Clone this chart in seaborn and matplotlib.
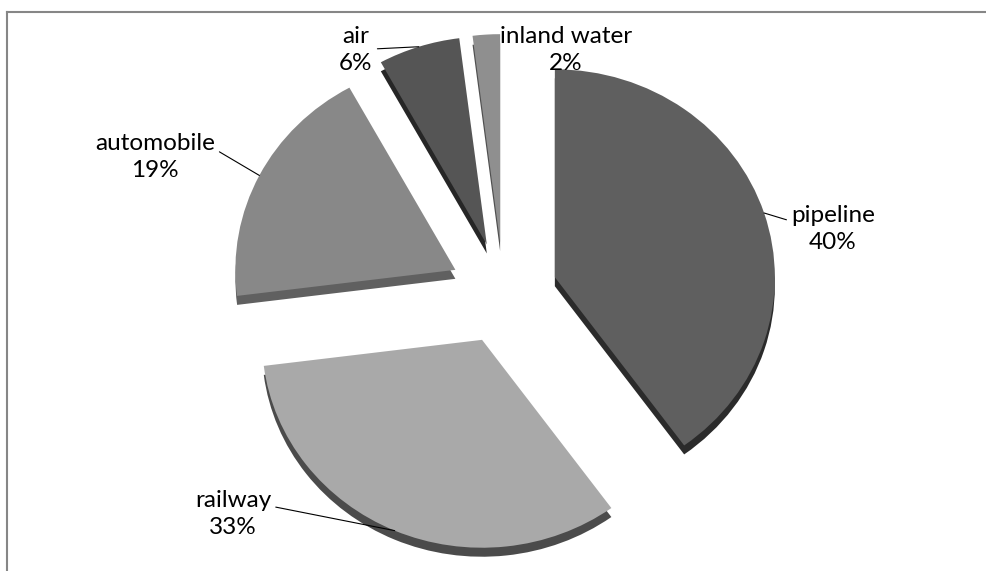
import numpy as np
import matplotlib
matplotlib.use("Agg")
import matplotlib.pyplot as plt
import seaborn as sns

# ---- data ----
categories = ["pipeline", "railway", "automobile", "air", "inland water"]
shares = [40, 33, 19, 6, 2]

# ---- style ----
top_colors = ["#5f5f5f", "#a9a9a9", "#888888", "#555555", "#8f8f8f"]
side_colors = ["#2b2b2b", "#4b4b4b", "#606060", "#262626", "#505050"]
label_px = [(833, 229), (233, 514), (155, 157), (356, 50), (566, 50)]
arrow_relpos = [(0.0, 0.66), (1.0, 0.66), (1.0, 0.66), (1.0, 0.52), None]

sns.set_theme(style="white")
plt.rcParams['font.family'] = ['Lato', 'DejaVu Sans']

W, H, DPI = 987, 571, 100
fig = plt.figure(figsize=(W / DPI, H / DPI), dpi=DPI)
left_px, top_px = 7, 12
ax = fig.add_axes([left_px / W, 0, 1, (H - top_px) / H])
SY = 0.945  # vertical squash of the tilted pie


def px2data(x, y):
    return x, (H - y) / SY


R = 220
explode = [54] * len(shares)
center = px2data(503.5, 293)
shadow_center = px2data(503.5, 302)

ax.pie(shares, radius=R, center=shadow_center, explode=explode, startangle=90,
       counterclock=False, colors=side_colors, frame=True,
       wedgeprops=dict(linewidth=0))
wedges, _ = ax.pie(shares, radius=R, center=center, explode=explode, startangle=90,
                   counterclock=False, colors=top_colors, frame=True,
                   wedgeprops=dict(linewidth=0))

ax.set_aspect('auto')
ax.set_xlim(left_px, left_px + W)
ax.set_ylim(0, (H - top_px) / SY)
ax.set_xticks([])
ax.set_yticks([])
ax.set_facecolor("white")
for side in ["right", "bottom"]:
    ax.spines[side].set_visible(False)
for side in ["top", "left"]:
    ax.spines[side].set_visible(True)
    ax.spines[side].set_color("#868686")
    ax.spines[side].set_linewidth(1.5)

FS = 17.5
for w, cat, s, (lx, ly), rp in zip(wedges, categories, shares, label_px, arrow_relpos):
    mid = np.deg2rad((w.theta1 + w.theta2) / 2)
    cx, cy = w.center
    anchor = (cx + w.r * np.cos(mid), cy + w.r * np.sin(mid))
    txt = f"{cat}\n{s}%"
    if rp is None:
        ax.annotate(txt, xy=(lx, H - ly), xycoords='figure pixels', ha='center', va='center',
                    fontsize=FS, color='black', linespacing=1.4)
    else:
        ax.annotate(txt, xy=anchor, xycoords='data', xytext=(lx, H - ly),
                    textcoords='figure pixels', ha='center', va='center',
                    fontsize=FS, color='black', linespacing=1.4,
                    arrowprops=dict(arrowstyle='-', color='black', lw=0.8,
                                    shrinkA=1, shrinkB=0, relpos=rp))

fig.savefig("out.png", dpi=DPI)
